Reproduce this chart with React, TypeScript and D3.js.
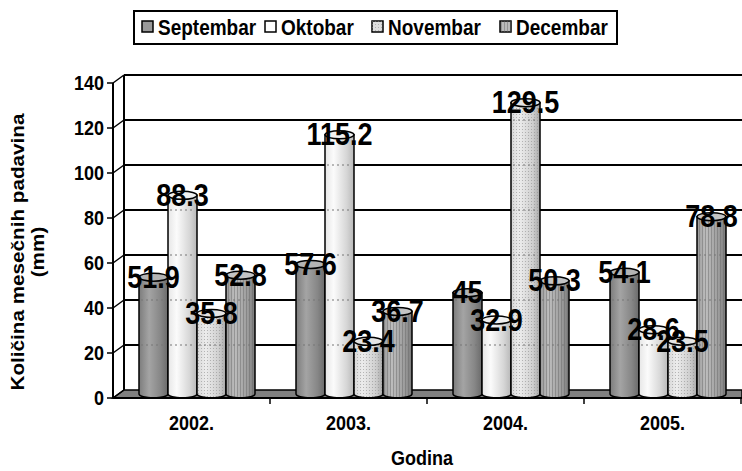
import React from "react";
import * as d3 from "d3";

const years = ["2002.", "2003.", "2004.", "2005."];
const months = ["Septembar", "Oktobar", "Novembar", "Decembar"];
const septembar = [51.9, 57.6, 45, 54.1];
const oktobar = [88.3, 115.2, 32.9, 28.6];
const novembar = [35.8, 23.4, 129.5, 23.5];
const decembar = [52.8, 36.7, 50.3, 78.8];
const yTicks = [0, 20, 40, 60, 80, 100, 120, 140];
const labelsText = (v: number) => String(v);

const series = [septembar, oktobar, novembar, decembar];

const FONT = "'Liberation Sans', Arial, sans-serif";
const W = 742;
const H = 471;

const frontX0 = 113;
const frontX1 = 741;
const depthX = 11;
const depthY = 8;
const groupW = 116;
const ry = 4;

const yFront = d3.scaleLinear().domain([0, 140]).range([398, 83]);
const yBack = (v: number) => yFront(v) - depthY;
const yMid = (v: number) => yFront(v) - depthY / 2;
const xBand = d3.scaleBand<string>().domain(years).range([frontX0, frontX1]).padding(0);
const inner = d3.scaleBand<string>().domain(months).range([0, groupW]).padding(0);

const gradIds = ["gSep", "gOkt", "gNov", "gDec"];
const topFills = ["#b4b4b4", "#f0f0f0", "#e4e4e4", "#c4c4c4"];
const patIds = [null, null, "pDots", "pStripes"];
const legendFill = ["#999999", "#ffffff", "#dddddd", "#bbbbbb"];
const legendX = [142, 265, 372, 500];

function SText(props: any) {
  const { x, y, size, anchor, children, rotate, sy } = props;
  const s = sy || 1.15;
  const tr = rotate
    ? `translate(${x},${y}) rotate(-90) scale(${s},1)`
    : `translate(${x},${y}) scale(1,${s})`;
  return (
    <text
      transform={tr}
      fontFamily={FONT}
      fontWeight="bold"
      fontSize={size}
      textAnchor={anchor || "middle"}
      dominantBaseline="central"
      fill="#000"
    >
      {children}
    </text>
  );
}

export default function App() {
  const bars: any[] = [];
  years.forEach((yr, i) => {
    months.forEach((m, j) => {
      const v = series[j][i];
      const x0 = (xBand(yr) as number) + depthX / 2 + (xBand.bandwidth() - groupW) / 2 + (inner(m) as number);
      const w = inner.bandwidth();
      const cx = x0 + w / 2;
      const yTop = yMid(v);
      const yBot = yMid(0);
      bars.push({ yr, m, i, j, v, x0, w, cx, yTop, yBot });
    });
  });

  return (
    <svg
      width={W}
      height={H}
      style={{ position: "absolute", left: 0, top: 0, background: "#fff" }}
    >
      <defs>
        <linearGradient id="gSep" x1="0" x2="1" y1="0" y2="0">
          <stop offset="0" stopColor="#7c7c7c" />
          <stop offset="0.35" stopColor="#a4a4a4" />
          <stop offset="0.75" stopColor="#868686" />
          <stop offset="1" stopColor="#6a6a6a" />
        </linearGradient>
        <linearGradient id="gOkt" x1="0" x2="1" y1="0" y2="0">
          <stop offset="0" stopColor="#e6e6e6" />
          <stop offset="0.3" stopColor="#fbfbfb" />
          <stop offset="0.75" stopColor="#d6d6d6" />
          <stop offset="1" stopColor="#b8b8b8" />
        </linearGradient>
        <linearGradient id="gNov" x1="0" x2="1" y1="0" y2="0">
          <stop offset="0" stopColor="#d8d8d8" />
          <stop offset="0.3" stopColor="#ececec" />
          <stop offset="0.75" stopColor="#cfcfcf" />
          <stop offset="1" stopColor="#a8a8a8" />
        </linearGradient>
        <linearGradient id="gDec" x1="0" x2="1" y1="0" y2="0">
          <stop offset="0" stopColor="#9a9a9a" />
          <stop offset="0.3" stopColor="#bdbdbd" />
          <stop offset="0.75" stopColor="#9c9c9c" />
          <stop offset="1" stopColor="#7a7a7a" />
        </linearGradient>
        <pattern id="pDots" width="3" height="3" patternUnits="userSpaceOnUse">
          <rect x="0" y="0" width="1" height="1" fill="#888" opacity="0.55" />
        </pattern>
        <pattern id="pStripes" width="3" height="3" patternUnits="userSpaceOnUse">
          <rect x="0" y="0" width="1" height="3" fill="#666" opacity="0.45" />
        </pattern>
      </defs>

      {/* Legend */}
      <rect x={134} y={11} width={483} height={33} fill="#fff" stroke="#000" strokeWidth={2} />
      {months.map((m, j) => (
        <g key={m}>
          <rect x={legendX[j]} y={21} width={11} height={11} fill={legendFill[j]} stroke="#000" strokeWidth={1.5} />
          {patIds[j] && (
            <rect x={legendX[j]} y={21} width={11} height={11} fill={`url(#${patIds[j]})`} />
          )}
          <SText x={legendX[j] + 16} y={27} size={19} anchor="start">
            {m}
          </SText>
        </g>
      ))}

      {/* Floor */}
      <polygon
        points={`${frontX0},${yFront(0)} ${frontX0 + depthX},${yBack(0)} ${W},${yBack(0)} ${W},${yFront(0)}`}
        fill="#808080"
        stroke="#000"
        strokeWidth={1.5}
      />

      {/* Back wall gridlines and side wall */}
      {yTicks.map((t) => (
        <g key={t}>
          {t > 0 && (
            <line x1={frontX0 + depthX} x2={W} y1={yBack(t)} y2={yBack(t)} stroke="#000" strokeWidth={2} />
          )}
          <line x1={frontX0} x2={frontX0 + depthX} y1={yFront(t)} y2={yBack(t)} stroke="#000" strokeWidth={1.5} />
          <line x1={frontX0 - 6} x2={frontX0} y1={yFront(t)} y2={yFront(t)} stroke="#000" strokeWidth={1.5} />
          <SText x={104} y={yFront(t)} size={18} anchor="end">
            {t}
          </SText>
        </g>
      ))}
      <line x1={frontX0 + depthX} x2={frontX0 + depthX} y1={yBack(140)} y2={yBack(0)} stroke="#000" strokeWidth={2} />
      <line x1={frontX0} x2={frontX0} y1={yFront(140)} y2={yFront(0)} stroke="#000" strokeWidth={2} />

      {/* Bars */}
      {bars.map((b) => {
        const x1 = b.x0 + b.w;
        const rx = b.w / 2;
        const d = `M${b.x0},${b.yTop} L${b.x0},${b.yBot} A${rx},${ry} 0 0 0 ${x1},${b.yBot} L${x1},${b.yTop} Z`;
        const pid = patIds[b.j];
        return (
          <g key={`${b.yr}-${b.m}`}>
            <path d={d} fill={`url(#${gradIds[b.j]})`} stroke="none" />
            {pid && <path d={d} fill={`url(#${pid})`} stroke="none" />}
            {yTicks
              .filter((t) => t > 0 && yBack(t) > b.yTop + ry + 1)
              .map((t) => (
                <line
                  key={t}
                  x1={b.x0 + 2}
                  x2={x1 - 2}
                  y1={yBack(t)}
                  y2={yBack(t)}
                  stroke="#777"
                  strokeWidth={1.2}
                  strokeDasharray="2,3"
                />
              ))}
            <path d={d} fill="none" stroke="#000" strokeWidth={1.5} />
            <ellipse cx={b.cx} cy={b.yTop} rx={rx} ry={ry} fill={topFills[b.j]} stroke="#000" strokeWidth={1.5} />
          </g>
        );
      })}

      {/* Front baseline & category ticks */}
      <line x1={frontX0} x2={W} y1={yFront(0)} y2={yFront(0)} stroke="#000" strokeWidth={2} />
      {years.map((yr) => {
        const xe = (xBand(yr) as number) + xBand.bandwidth();
        return <line key={yr} x1={xe} x2={xe} y1={yFront(0)} y2={yFront(0) + 6} stroke="#000" strokeWidth={1.5} />;
      })}

      {/* Data labels */}
      {bars.map((b) => (
        <SText key={`l-${b.yr}-${b.m}`} x={b.cx} y={b.yTop} size={27}>
          {labelsText(b.v)}
        </SText>
      ))}

      {/* Category labels */}
      {years.map((yr) => (
        <SText key={`c-${yr}`} x={(xBand(yr) as number) + xBand.bandwidth() / 2} y={423} size={18}>
          {yr}
        </SText>
      ))}

      {/* Axis titles */}
      <SText x={422} y={458} size={18}>
        Godina
      </SText>
      <SText x={18} y={252} size={18} rotate>
        Količina mesečnih padavina
      </SText>
      <SText x={38} y={252} size={18} rotate>
        (mm)
      </SText>
    </svg>
  );
}
